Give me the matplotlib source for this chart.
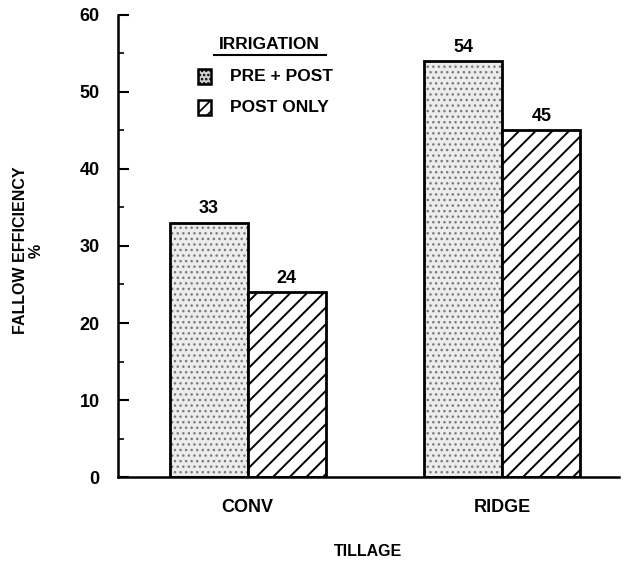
import numpy as np
import matplotlib
matplotlib.use('Agg')
import matplotlib.pyplot as plt
from matplotlib.patches import Rectangle
from matplotlib.ticker import MultipleLocator

tillage = ["CONV", "RIDGE"]
pre_post = [33, 54]
post_only = [24, 45]
series_names = ["PRE + POST", "POST ONLY"]

plt.rcParams['font.family'] = ['Liberation Sans', 'DejaVu Sans']
plt.rcParams['font.weight'] = 'bold'

fig = plt.figure(figsize=(6.27, 5.68), dpi=100)
ax = fig.add_axes([0.188, 0.160, 0.80, 0.814])

x = np.arange(len(tillage))
w = 0.306

# stipple: grey dots on light fill, then black outline on top
plt.rcParams['hatch.linewidth'] = 1.0
ax.bar(x - w / 2, pre_post, w, facecolor='#ececec', edgecolor='#7a7a7a',
       linewidth=0, hatch='...')
ax.bar(x - w / 2, pre_post, w, fill=False, edgecolor='black', linewidth=2)

plt.rcParams['hatch.linewidth'] = 1.4
ax.bar(x + w / 2, post_only, w, facecolor='white', edgecolor='black',
       linewidth=2, hatch='//')

for xi, v in zip(x - w / 2, pre_post):
    ax.text(xi, v + 0.7, str(v), ha='center', va='bottom', fontsize=13, fontweight='bold')
for xi, v in zip(x + w / 2, post_only):
    ax.text(xi, v + 0.7, str(v), ha='center', va='bottom', fontsize=13, fontweight='bold')

ax.set_xlim(-0.51, 1.46)
ax.set_ylim(0, 60)
ax.set_xticks(x)
ax.set_xticklabels(tillage, fontsize=13, fontweight='bold')
ax.tick_params(axis='x', length=0, pad=16)
ax.yaxis.set_major_locator(MultipleLocator(10))
ax.yaxis.set_minor_locator(MultipleLocator(5))
ax.tick_params(axis='y', which='major', direction='in', length=8, width=1.5, labelsize=13, pad=13)
ax.tick_params(axis='y', which='minor', direction='in', length=4, width=1.2)
for lbl in ax.get_yticklabels():
    lbl.set_fontweight('bold')

ax.spines['top'].set_visible(False)
ax.spines['right'].set_visible(False)
ax.spines['left'].set_linewidth(1.8)
ax.spines['bottom'].set_linewidth(1.8)

ax.set_ylabel("FALLOW EFFICIENCY\n%", fontsize=11.5, fontweight='bold', linespacing=1.05)
ax.yaxis.set_label_coords(-0.148, 0.49)
ax.set_xlabel("TILLAGE", fontsize=11.5, fontweight='bold')
ax.xaxis.set_label_coords(0.498, -0.145)

# legend drawn by hand in axes coordinates
tx = (270 - 118) / 502
ax.text(tx, 0.935, "IRRIGATION", transform=ax.transAxes, ha='center', va='center',
        fontsize=12.5, fontweight='bold')
ax.plot([(214 - 118) / 502, (326 - 118) / 502], [0.912, 0.912], transform=ax.transAxes,
        color='black', lw=1.5, clip_on=False)
styles = [('#d0d0d0', '....'), ('white', '///')]
for i, (name, (fc, h)) in enumerate(zip(series_names, styles)):
    yy = 0.866 - i * 0.066
    plt.rcParams['hatch.linewidth'] = 1.2
    r = Rectangle(((198 - 118) / 502, yy - 0.016), 0.027, 0.032, transform=ax.transAxes,
                  facecolor=fc, edgecolor='black', linewidth=1.8, hatch=h, clip_on=False)
    ax.add_patch(r)
    ax.text((230 - 118) / 502, yy, name, transform=ax.transAxes, ha='left', va='center',
            fontsize=12.5, fontweight='bold')

plt.savefig("out.png", dpi=100)
